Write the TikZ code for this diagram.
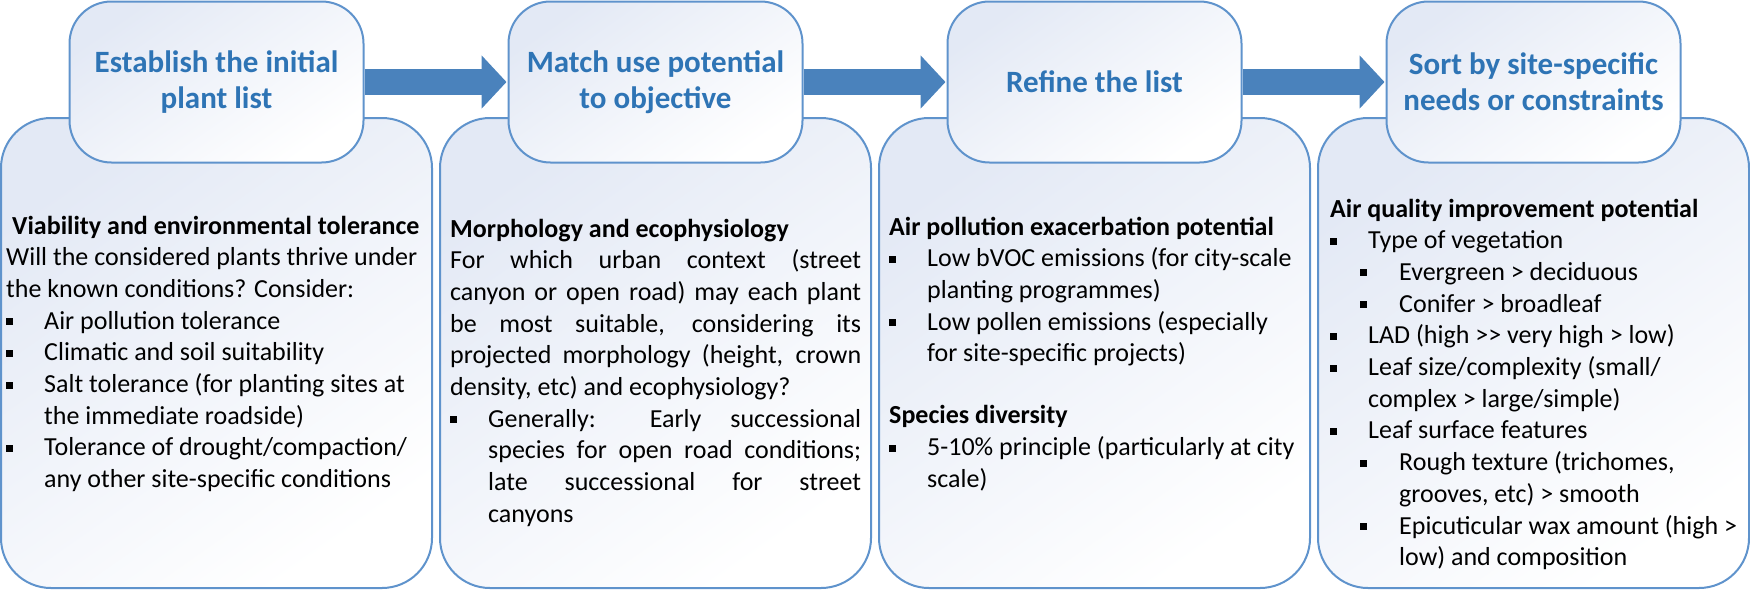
\documentclass[tikz,border=0pt]{standalone}
\usepackage{fontspec}
\setmainfont{Carlito}
\usetikzlibrary{arrows.meta}
\definecolor{bord}{HTML}{5F93CC}
\definecolor{ttl}{HTML}{2E74B5}
\definecolor{arr}{HTML}{4A82BC}
\definecolor{shd}{HTML}{E3E9F5}
\newcommand\sq{\rule[4pt]{7pt}{7pt}}
\newcommand\bi[1]{\makebox[38pt][l]{\sq}#1}
\newcommand\ct[1]{\hspace*{38pt}#1}
\newcommand\sbi[1]{\hspace*{30pt}\makebox[39pt][l]{\sq}#1}
\newcommand\sct[1]{\hspace*{69pt}#1}
\newcommand\js[2]{\makebox[#1][s]{#2}}
\newcommand\colbox[1]{\parbox[t]{415pt}{\setlength{\parindent}{0pt}#1}}
\begin{document}
\begin{tikzpicture}[x=1pt,y=-1pt,
  bigbox/.style={draw=bord,line width=2pt,rounded corners=50pt,minimum width=431pt,minimum height=470pt,inner sep=0pt,
    top color=shd,bottom color=white,shading angle=35},
  topbox/.style={draw=bord,line width=2pt,rounded corners=42pt,minimum width=294pt,minimum height=161pt,inner sep=0pt,
    top color=shd,bottom color=white,shading angle=35,align=center,text=ttl,
    font=\fontsize{31}{36}\selectfont\bfseries},
  body/.style={anchor=base west,inner sep=0pt,font=\fontsize{26}{31.7}\selectfont},
  flow/.style={arr,line width=26pt,-{Triangle[width=52pt,length=25pt]},shorten >=1pt}]
\useasboundingbox (0,0) rectangle (1750,590);
\foreach \i/\x in {1/1,2/440,3/879,4/1318}{
  \node[bigbox] (b\i) at (\x+215.5,353) {};
}
\node[topbox] (t1) at (216.5,82) {Establish the initial\\plant list};
\node[topbox] (t2) at (655.5,82) {Match use potential\\to objective};
\node[topbox] (t3) at (1094.5,82) {Refine the list};
\node[topbox] (t4) at (1533.5,82) {Sort by site-specific\\needs or constraints};
\draw[flow] (t1.east) -- (t2.west);
\draw[flow] (t2.east) -- (t3.west);
\draw[flow] (t3.east) -- (t4.west);

\node[body] (x1) at (6,234) {\colbox{%
\hspace*{6pt}\textbf{Viability and environmental tolerance}\\
Will the considered plants thrive under\\
the known conditions? Consider:\\
\bi{Air pollution tolerance}\\
\bi{Climatic and soil suitability}\\
\bi{Salt tolerance (for planting sites at}\\
\ct{the immediate roadside)}\\
\bi{Tolerance of drought/compaction/}\\
\ct{any other site-specific conditions}}};

\node[body] (x2) at (450,237) {\colbox{%
\textbf{Morphology and ecophysiology}\\
\js{411pt}{For which urban context (street}\\
\js{411pt}{canyon or open road) may each plant}\\
\js{411pt}{be most suitable, considering its}\\
\js{411pt}{projected morphology (height, crown}\\
density, etc) and ecophysiology?\\
\bi{\js{373pt}{Generally: Early successional}}\\
\ct{\js{373pt}{species for open road conditions;}}\\
\ct{\js{373pt}{late successional for street}}\\
\ct{canyons}}};

\node[body] (x3) at (889,235) {\colbox{%
\textbf{Air pollution exacerbation potential}\\
\bi{Low bVOC emissions (for city-scale}\\
\ct{planting programmes)}\\
\bi{Low pollen emissions (especially}\\
\ct{for site-specific projects)}\\[30.3pt]
\textbf{Species diversity}\\
\bi{5-10\% principle (particularly at city}\\
\ct{scale)}}};

\node[body] (x4) at (1330,217) {\colbox{%
\textbf{Air quality improvement potential}\\
\bi{Type of vegetation}\\
\sbi{Evergreen > deciduous}\\
\sbi{Conifer > broadleaf}\\
\bi{LAD (high >{}> very high > low)}\\
\bi{Leaf size/complexity (small/}\\
\ct{complex > large/simple)}\\
\bi{Leaf surface features}\\
\sbi{Rough texture (trichomes,}\\
\sct{grooves, etc) > smooth}\\
\sbi{Epicuticular wax amount (high >}\\
\sct{low) and composition}}};
\end{tikzpicture}
\end{document}
